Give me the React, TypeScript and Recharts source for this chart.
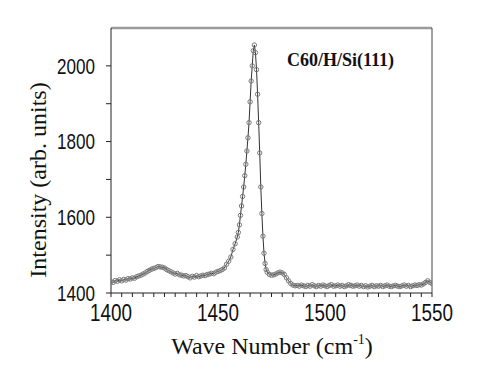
import React from "react";
import { LineChart, Line, XAxis, YAxis, ReferenceLine } from "recharts";

const waveNumbers: number[] = [
  1400, 1401, 1402, 1403, 1404, 1405, 1406, 1407, 1408, 1409,
  1410, 1411, 1412, 1413, 1414, 1415, 1416, 1417, 1418, 1419,
  1420, 1421, 1422, 1423, 1424, 1425, 1426, 1427, 1428, 1429,
  1430, 1431, 1432, 1433, 1434, 1435, 1436, 1437, 1438, 1439,
  1440, 1441, 1442, 1443, 1444, 1445, 1446, 1447, 1448, 1449,
  1450, 1451, 1452, 1453, 1454, 1455, 1456, 1457, 1458, 1459,
  1459.5, 1460, 1460.5, 1461, 1461.5, 1462, 1462.5, 1463, 1463.5, 1464,
  1464.5, 1465, 1465.5, 1466, 1466.5, 1467, 1467.5, 1468, 1468.5, 1469,
  1469.5, 1470, 1470.5, 1471, 1471.5, 1472, 1472.5, 1473, 1474, 1475,
  1476, 1477, 1478, 1479, 1480, 1481, 1482, 1483, 1484, 1485,
  1486, 1487, 1488, 1489, 1490, 1491, 1492, 1493, 1494, 1495,
  1496, 1497, 1498, 1499, 1500, 1501, 1502, 1503, 1504, 1505,
  1506, 1507, 1508, 1509, 1510, 1511, 1512, 1513, 1514, 1515,
  1516, 1517, 1518, 1519, 1520, 1521, 1522, 1523, 1524, 1525,
  1526, 1527, 1528, 1529, 1530, 1531, 1532, 1533, 1534, 1535,
  1536, 1537, 1538, 1539, 1540, 1541, 1542, 1543, 1544, 1545,
  1546, 1547, 1548, 1549, 1550,
];

const intensity: number[] = [
  1430, 1428, 1433, 1431, 1435, 1432, 1436, 1434, 1438, 1437,
  1440, 1439, 1443, 1445, 1447, 1450, 1453, 1457, 1460, 1463,
  1465, 1467, 1470, 1469, 1468, 1466, 1462, 1459, 1456, 1453,
  1450, 1452, 1448, 1447, 1445, 1446, 1443, 1440, 1444, 1442,
  1446, 1443, 1445, 1447, 1446, 1449, 1450, 1452, 1451, 1455,
  1457, 1459, 1462, 1466, 1476, 1484, 1495, 1515, 1530, 1548,
  1560, 1580, 1605, 1630, 1655, 1680, 1710, 1740, 1775, 1810,
  1850, 1905, 1960, 2000, 2040, 2055, 2035, 1990, 1925, 1850,
  1770, 1680, 1610, 1550, 1505, 1478, 1462, 1455, 1449, 1447,
  1448, 1450, 1453, 1455, 1453, 1449, 1440, 1432, 1425, 1421,
  1419, 1420, 1418, 1421, 1419, 1417, 1420, 1418, 1422, 1419,
  1417, 1420, 1418, 1421, 1419, 1417, 1420, 1422, 1418, 1419,
  1421, 1418, 1420, 1417, 1419, 1422, 1420, 1418, 1419, 1421,
  1418, 1420, 1417, 1419, 1416, 1418, 1420, 1417, 1419, 1418,
  1420, 1417, 1419, 1421, 1418, 1417, 1419, 1420, 1418, 1417,
  1419, 1421, 1418, 1420, 1417, 1419, 1421, 1420, 1422, 1421,
  1424, 1428, 1432, 1428, 1425,
];

const xTicks: number[] = [
  1400, 1405, 1410, 1415, 1420, 1425, 1430, 1435, 1440, 1445,
  1450, 1455, 1460, 1465, 1470, 1475, 1480, 1485, 1490, 1495,
  1500, 1505, 1510, 1515, 1520, 1525, 1530, 1535, 1540, 1545, 1550,
];
const xLabelTicks: number[] = [1400, 1450, 1500, 1550];
const yTicks: number[] = [1400, 1500, 1600, 1700, 1800, 1900, 2000];
const yLabelTicks: number[] = [1400, 1600, 1800, 2000];
const xMax = 1550;
const yMax = 2100;

const data = waveNumbers.map((x, i) => ({ x, y: intensity[i] }));

const tickFont = "'Liberation Sans', Arial, sans-serif";
const serif = "'Liberation Serif', 'Times New Roman', serif";

const XTick = (props: any) => {
  const { x, y, payload } = props;
  if (!xLabelTicks.includes(payload.value)) return <g />;
  return (
    <text
      x={x}
      y={y}
      dy="0.71em"
      textAnchor="middle"
      fontFamily={tickFont}
      fontSize={23}
      textLength={42}
      lengthAdjust="spacingAndGlyphs"
      fill="#111"
    >
      {payload.value}
    </text>
  );
};

const YTick = (props: any) => {
  const { x, y, payload } = props;
  if (!yLabelTicks.includes(payload.value)) return <g />;
  return (
    <text
      x={x}
      y={y}
      dy="0.355em"
      textAnchor="end"
      fontFamily={tickFont}
      fontSize={22}
      textLength={38}
      lengthAdjust="spacingAndGlyphs"
      fill="#111"
    >
      {payload.value}
    </text>
  );
};

export default function App() {
  return (
    <div style={{ position: "absolute", left: 0, top: 0, width: 478, height: 387, background: "#fff" }}>
      <LineChart
        width={478}
        height={387}
        data={data}
        margin={{ top: 28, right: 46, bottom: 64, left: 51 }}
      >
        <XAxis
          dataKey="x"
          type="number"
          domain={[1400, 1550]}
          ticks={xTicks}
          interval={0}
          tick={<XTick />}
          tickSize={4}
          tickMargin={8}
          stroke="#222"
          height={30}
          allowDataOverflow
        />
        <YAxis
          type="number"
          domain={[1400, 2100]}
          ticks={yTicks}
          interval={0}
          tick={<YTick />}
          tickSize={5}
          tickMargin={11}
          stroke="#222"
          width={60}
          allowDataOverflow
        />
        <ReferenceLine y={yMax} stroke="#9a9a9a" strokeWidth={2.5} ifOverflow="visible" />
        <ReferenceLine x={xMax} stroke="#444" strokeWidth={1} ifOverflow="visible" />
        <Line
          type="linear"
          dataKey="y"
          stroke="#333"
          strokeWidth={1}
          dot={{ r: 2.2, stroke: "#7a7a7a", strokeWidth: 1, fill: "none" }}
          isAnimationActive={false}
        />
      </LineChart>
      <svg
        width={478}
        height={387}
        style={{ position: "absolute", left: 0, top: 0, pointerEvents: "none" }}
      >
        <text
          x={46}
          y={180}
          transform="rotate(-90, 46, 180)"
          textAnchor="middle"
          fontFamily={serif}
          fontSize={24}
          fill="#111"
        >
          Intensity (arb. units)
        </text>
        <text x={272} y={354} textAnchor="middle" fontFamily={serif} fontSize={24} fill="#111">
          Wave Number (cm
          <tspan fontSize={14} dy={-10}>-1</tspan>
          <tspan dy={10}>)</tspan>
        </text>
        <text x={287} y={66} fontFamily={serif} fontWeight="bold" fontSize={18} fill="#111">
          C60/H/Si(111)
        </text>
      </svg>
    </div>
  );
}
